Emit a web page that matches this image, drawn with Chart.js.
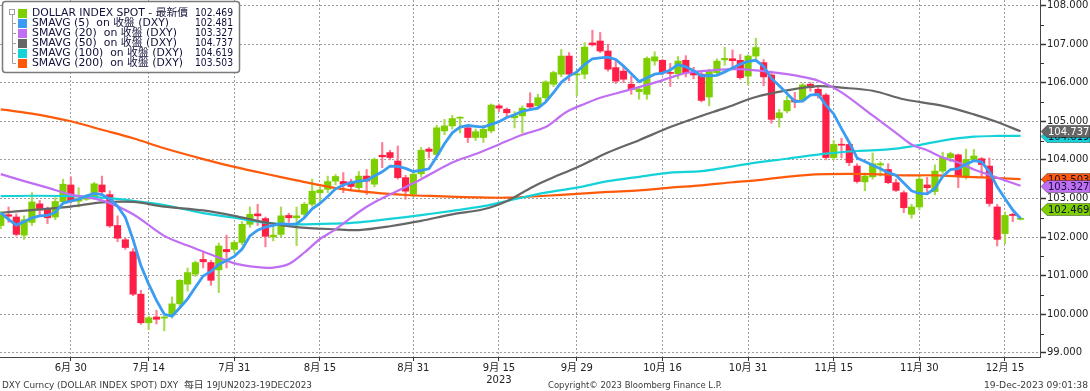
<!DOCTYPE html>
<html>
<head>
<meta charset="utf-8">
<script src="https://cdn.jsdelivr.net/npm/chart.js@4.4.1/dist/chart.umd.min.js"></script>
<style>
html, body { margin: 0; padding: 0; background: #fff; }
#wrap { width: 1090px; height: 391px; }
</style>
</head>
<body>
<div id="wrap"><canvas id="dxy" width="1090" height="391"></canvas></div>
<script>
// daily candles, 19 Jun 2023 .. 19 Dec 2023 (weekdays)
const opens = [102.30,102.58,102.52,102.05,102.38,102.86,102.72,102.52,102.92,103.35,
102.93,102.98,103.03,103.35,103.10,102.30,101.93,101.62,100.52,99.78,
99.93,99.90,99.98,100.27,100.78,101.04,101.42,101.34,101.15,101.68,
101.68,101.86,102.33,102.60,102.48,102.00,102.07,102.56,102.50,102.59,
102.85,103.15,103.24,103.45,103.44,103.43,103.28,103.58,103.37,104.12,
104.19,103.97,103.54,103.11,103.64,104.28,104.14,104.75,104.88,105.08,
104.83,104.58,104.58,104.75,105.40,105.31,105.09,105.14,105.46,105.40,
105.61,105.96,106.22,106.69,106.20,106.22,107.03,107.08,106.82,106.39,
106.30,105.96,105.77,105.70,106.56,106.58,106.26,106.23,106.58,106.26,
106.22,105.63,106.26,106.59,106.62,106.58,106.17,106.69,106.52,106.20,
105.09,105.27,105.55,105.54,105.96,105.83,105.68,104.06,104.40,104.40,
103.84,103.43,103.56,103.87,103.75,103.41,103.15,102.59,102.78,103.35,
103.18,103.71,104.06,104.13,103.58,104.01,104.03,103.84,102.78,102.09,
102.59,102.46];
const highs = [102.66,102.78,102.60,102.55,103.15,102.95,102.78,103.02,103.50,103.56,
103.28,103.10,103.42,103.58,103.20,102.55,101.98,101.70,100.62,99.95,
100.10,99.95,100.45,100.90,101.20,101.38,101.62,101.40,101.85,102.05,
101.90,102.40,102.78,102.85,102.52,102.30,102.78,102.62,102.78,102.90,
103.50,103.30,103.58,103.62,103.67,103.50,103.70,103.75,104.05,104.45,
104.25,104.36,103.60,103.70,104.32,104.32,104.90,105.05,105.15,105.12,
104.90,104.80,104.90,105.45,105.45,105.35,105.25,105.40,105.74,105.70,
106.05,106.30,106.86,106.78,106.25,107.04,107.36,107.30,107.00,106.58,
106.45,106.17,105.90,106.67,106.80,106.60,106.50,106.68,106.70,106.40,
106.30,106.35,106.62,106.92,106.85,106.73,106.72,107.15,106.60,106.30,
105.31,105.65,105.75,105.98,106.00,105.90,105.72,104.50,104.56,104.45,
103.90,103.66,104.18,103.95,103.90,103.50,103.20,102.85,103.60,103.55,
103.87,104.20,104.20,104.15,104.28,104.27,104.06,104.05,102.85,102.65,
102.62,102.50];
const lows = [102.22,102.38,102.03,101.94,102.30,102.55,102.35,102.45,102.85,102.88,
102.78,102.95,102.98,103.10,102.25,101.88,101.68,100.48,99.74,99.60,
99.75,99.57,99.90,100.20,100.60,100.98,101.20,100.75,100.56,101.20,
101.60,101.80,102.25,102.30,101.75,101.90,102.00,102.38,101.78,102.50,
102.80,102.90,103.15,103.35,103.15,103.20,103.20,103.10,103.30,103.80,
104.00,103.50,102.98,103.05,103.55,104.05,104.10,104.65,104.80,104.70,
104.45,104.50,104.45,104.70,105.25,105.10,104.83,104.70,105.30,105.35,
105.55,105.90,106.15,106.05,105.66,106.10,106.95,106.78,106.30,105.98,
106.00,105.70,105.57,105.57,106.45,106.20,105.90,106.10,106.15,106.10,
105.50,105.40,106.20,106.45,106.35,106.09,105.94,106.60,105.92,104.95,
104.85,105.22,105.35,105.50,105.78,105.60,104.00,104.00,104.05,103.85,
103.40,103.20,103.50,103.58,103.38,103.18,102.63,102.49,102.70,103.13,
103.10,103.65,103.95,103.28,103.50,103.98,103.54,102.80,101.77,101.83,
102.40,102.44];
const closes = [102.58,102.54,102.07,102.45,102.91,102.70,102.50,102.92,103.37,102.93,
103.00,103.06,103.38,103.17,102.29,101.97,101.73,100.52,99.78,99.91,
99.87,99.93,100.27,100.88,101.08,101.34,101.36,100.88,101.77,101.62,
101.86,102.33,102.59,102.55,102.02,102.05,102.55,102.50,102.55,102.85,
103.19,103.22,103.44,103.57,103.37,103.31,103.58,103.45,104.01,104.08,
104.06,103.54,103.19,103.63,104.25,104.22,104.83,104.88,105.07,105.10,
104.58,104.73,104.79,105.42,105.34,105.22,105.14,105.34,105.37,105.61,
106.02,106.26,106.69,106.22,106.22,106.92,106.98,106.82,106.35,106.04,
106.09,105.83,105.83,106.63,106.67,106.26,106.24,106.56,106.26,106.20,
105.54,106.29,106.56,106.63,106.57,106.13,106.69,106.91,106.15,105.05,
105.22,105.54,105.50,105.94,105.87,105.66,104.06,104.40,104.38,103.93,
103.44,103.58,103.90,103.90,103.41,103.21,102.76,102.78,103.50,103.28,
103.71,104.06,104.16,103.58,104.01,104.10,103.88,102.87,101.94,102.56,
102.56,102.47];

// moving averages
const sma5 = [102.63,102.46,102.31,102.40,102.50,102.55,102.56,102.64,102.88,102.93,
102.98,103.06,103.13,103.10,102.98,102.80,102.51,101.93,101.26,100.78,
100.36,100.00,99.95,100.17,100.40,100.70,100.99,101.11,101.29,101.39,
101.50,101.69,102.03,102.18,102.26,102.30,102.35,102.33,102.34,102.50,
102.73,102.87,103.05,103.25,103.35,103.41,103.45,103.47,103.58,103.69,
103.84,103.83,103.78,103.70,103.73,103.77,104.08,104.42,104.70,104.85,
104.89,104.87,104.85,104.92,104.99,105.10,105.17,105.26,105.30,105.34,
105.50,105.74,106.01,106.17,106.28,106.47,106.62,106.64,106.66,106.60,
106.43,106.23,106.03,106.12,106.22,106.25,106.33,106.47,106.41,106.31,
106.18,106.18,106.19,106.28,106.38,106.48,106.55,106.58,106.42,106.11,
105.92,105.72,105.51,105.52,105.68,105.70,105.42,105.19,104.81,104.45,
104.05,103.96,103.86,103.77,103.67,103.60,103.40,103.20,103.13,103.12,
103.26,103.57,103.75,103.77,103.89,103.98,103.95,103.69,103.30,103.00,
102.70,102.48];
const sma20Day = [0,3,6,9,13,17,21,24,27,30,33,35,37,39,41,43,46,48,51,54,58,61,64,67,70,72,73,75,77,79,81,84,86,88,90,94,97,101,103,105,108,112,115,117,119,121,123,125,128,131];
const sma20 = [103.63,103.45,103.28,103.10,102.95,102.59,102.03,101.78,101.55,101.32,101.22,101.21,101.30,101.60,101.95,102.20,102.65,102.90,103.20,103.50,103.93,104.15,104.40,104.65,104.85,105.15,105.28,105.45,105.61,105.72,105.83,106.00,106.13,106.25,106.30,106.35,106.32,106.22,106.15,106.05,105.75,105.15,104.70,104.40,104.25,104.06,103.93,103.75,103.54,103.33];
const sma50Day = [0,4,9,13,17,21,26,30,34,38,43,46,50,54,58,62,65,67,69,71,74,78,82,86,90,93,97,101,105,108,112,116,121,125,128,131];
const sma50 = [102.63,102.70,102.79,102.90,102.91,102.79,102.69,102.55,102.38,102.26,102.20,102.18,102.28,102.42,102.59,102.72,102.93,103.15,103.37,103.55,103.80,104.19,104.51,104.85,105.14,105.34,105.63,105.80,105.91,105.87,105.79,105.57,105.40,105.18,104.98,104.74];
const sma100Day = [0,4,9,13,17,21,26,30,34,38,43,46,50,54,58,62,66,70,74,78,82,86,90,93,97,101,106,110,114,117,121,125,128,131];
const sma100 = [103.06,103.07,103.06,103.02,102.94,102.83,102.62,102.50,102.37,102.33,102.35,102.38,102.47,102.57,102.68,102.80,102.98,103.15,103.28,103.45,103.56,103.67,103.71,103.80,103.93,104.03,104.16,104.23,104.27,104.35,104.50,104.60,104.62,104.62];
const sma200Day = [0,4,9,13,17,21,26,30,34,38,43,48,52,56,61,65,70,74,78,82,86,90,94,97,100,103,106,112,116,120,124,128,131];
const sma200 = [105.31,105.20,105.00,104.78,104.56,104.30,104.02,103.82,103.64,103.47,103.27,103.15,103.09,103.06,103.03,103.02,103.07,103.12,103.17,103.21,103.28,103.34,103.42,103.47,103.54,103.60,103.63,103.63,103.60,103.60,103.56,103.53,103.50];

const tickDays = [9,19,30,41,53,64,74,85,96,107,118,129];
const tickLabels = ['6月 30','7月 14','7月 31','8月 15','8月 31',['9月 15','2023'],'9月 29','10月 16','10月 31','11月 15','11月 30','12月 15'];
const yTicks = [99,100,101,102,103,104,105,106,107,108];

const legendNames = ['DOLLAR INDEX SPOT - 最新價','SMAVG (5)  on 收盤 (DXY)','SMAVG (20)  on 收盤 (DXY)','SMAVG (50)  on 收盤 (DXY)','SMAVG (100)  on 收盤 (DXY)','SMAVG (200)  on 收盤 (DXY)'];
const legendWidths = [156, 137, 145, 145, 151, 151];
const lastValues = [102.469,102.481,103.327,104.737,104.619,103.503];

const GREEN = '#7dcf00', RED = '#ff1e46';
const GREEN_WICK = '#a6dc52', RED_WICK = '#ff7d92';
const BLUE = '#3a9cf2', PURPLE = '#c16ff2', GRAY = '#666666', CYAN = '#14d3d8', ORANGE = '#ff5a0a';
const legendColors = [GREEN, BLUE, PURPLE, GRAY, CYAN, ORANGE];
const FONT = "'DejaVu Sans', 'Noto Sans CJK TC', sans-serif";

const isUp = i => closes[i] >= opens[i];
const pts = (days, vals) => vals.map((v, k) => ({x: days[k], y: v}));

const overlay = {
    id: 'overlay',
    afterDraw(chart){
        const ctx = chart.ctx;
        const a = chart.chartArea;
        const y = chart.scales.y;
        ctx.save();

        //squeeze or stretch a text to a given width
        const fit = (t, x, yy, w) => {
            const m = ctx.measureText(t).width;
            ctx.save();
            ctx.translate(x, yy);
            ctx.scale(w / m, 1);
            ctx.textAlign = 'left';
            ctx.fillText(t, 0, 0);
            ctx.restore();
        };

        //minor ticks on the value axis
        ctx.strokeStyle = '#333';
        ctx.lineWidth = 1;
        for(let v = 99.5; v < 108; v += 1){
            const py = Math.round(y.getPixelForValue(v)) + 0.5;
            ctx.beginPath();
            ctx.moveTo(a.right, py);
            ctx.lineTo(a.right + 4, py);
            ctx.stroke();
        }

        //last value tags on the right, later ones on top
        const tags = [
            [104.619, CYAN, '#10103a', 0],
            [104.737, GRAY, '#ffffff', 0],
            [103.503, ORANGE, '#10103a', 0],
            [103.327, PURPLE, '#10103a', 0],
            [102.469, GREEN, '#10103a', -10]
        ];
        ctx.font = '10px ' + FONT;
        ctx.textBaseline = 'middle';
        ctx.textAlign = 'left';
        tags.forEach(([v, bg, fg, nudge]) => {
            const yc = Math.round(y.getPixelForValue(v)) + nudge + 0.5;
            const x0 = a.right + 1, h = 12, tip = 6;
            ctx.beginPath();
            ctx.moveTo(x0, yc);
            ctx.lineTo(x0 + tip, yc - h / 2);
            ctx.lineTo(1090, yc - h / 2);
            ctx.lineTo(1090, yc + h / 2);
            ctx.lineTo(x0 + tip, yc + h / 2);
            ctx.closePath();
            ctx.fillStyle = bg;
            ctx.fill();
            ctx.strokeStyle = 'rgba(0,0,0,0.35)';
            ctx.stroke();
            ctx.fillStyle = fg;
            ctx.fillText(v.toFixed(3), x0 + tip + 1, yc + 0.5);
        });

        //legend box
        ctx.beginPath();
        ctx.roundRect(2.5, 1.5, 237, 71, 3);
        ctx.fillStyle = '#ffffff';
        ctx.fill();
        ctx.lineWidth = 1.5;
        ctx.strokeStyle = '#7a7a7a';
        ctx.stroke();

        const rowY = k => 12.5 + k * 10.15;
        ctx.lineWidth = 1;
        ctx.strokeStyle = '#a0a0a0';
        ctx.strokeRect(9.5, 9.5, 5, 5);
        ctx.beginPath();
        ctx.moveTo(12.5, 14.5);
        ctx.lineTo(12.5, rowY(5));
        for(let k = 1; k < 6; k++){
            ctx.moveTo(12.5, Math.round(rowY(k)) + 0.5);
            ctx.lineTo(16, Math.round(rowY(k)) + 0.5);
        }
        ctx.stroke();

        ctx.font = '10px ' + FONT;
        legendNames.forEach((name, k) => {
            const ry = rowY(k) + 0.5;
            ctx.fillStyle = legendColors[k];
            ctx.fillRect(18, Math.round(rowY(k)) - 4, 9, 9);
            ctx.fillStyle = '#10103a';
            fit(name, 32, ry, legendWidths[k]);
            fit(lastValues[k].toFixed(3), 195, ry, 38);
        });

        //footer line
        ctx.fillStyle = '#3a3a3a';
        ctx.font = "9px 'DejaVu Sans Condensed', 'Noto Sans CJK TC', sans-serif";
        fit('DXY Curncy (DOLLAR INDEX SPOT) DXY  每日 19JUN2023-19DEC2023', 2, 385.5, 310);
        fit('Copyright© 2023 Bloomberg Finance L.P.', 548, 385.5, 174);
        fit('19-Dec-2023 09:01:38', 984, 385.5, 104);

        ctx.restore();
    }
};

const lineSet = (label, data, color, width, order, tension) => ({
    type: 'line', label, data, borderColor: color, borderWidth: width,
    pointRadius: 0, tension, order, fill: false
});

new Chart(document.getElementById('dxy'), {
    type: 'bar',
    data: {
        datasets: [
            lineSet('SMAVG (5)', sma5.map((v, i) => ({x: i, y: v})), BLUE, 2.8, 1, 0),
            lineSet('SMAVG (20)', pts(sma20Day, sma20), PURPLE, 2.2, 2, 0.3),
            lineSet('SMAVG (50)', pts(sma50Day, sma50), GRAY, 2.2, 3, 0.3),
            lineSet('SMAVG (100)', pts(sma100Day, sma100), CYAN, 2.2, 4, 0.3),
            lineSet('SMAVG (200)', pts(sma200Day, sma200), ORANGE, 2.2, 5, 0.3),
            {
                label: 'body',
                data: closes.map((c, i) => ({x: i, y: [opens[i], c]})),
                backgroundColor: c => isUp(c.dataIndex) ? GREEN : RED,
                barThickness: 6.5,
                minBarLength: 1,
                grouped: false,
                order: 6
            },
            {
                label: 'wick',
                data: closes.map((c, i) => ({x: i, y: [lows[i], highs[i]]})),
                backgroundColor: c => isUp(c.dataIndex) ? GREEN_WICK : RED_WICK,
                barThickness: 1.5,
                grouped: false,
                order: 7
            }
        ]
    },
    options: {
        responsive: false,
        animation: false,
        layout: { padding: 0 },
        plugins: { legend: { display: false }, tooltip: { enabled: false } },
        scales: {
            x: {
                type: 'linear',
                min: -0.1,
                max: 133.5,
                offset: false,
                grid: { color: '#9c9c9c', offset: false, tickLength: 4, tickColor: '#333' },
                border: { color: '#444', width: 1, dash: [2, 2] },
                ticks: {
                    autoSkip: false, maxRotation: 0, padding: 1, color: '#222',
                    font: { family: FONT, size: 10 },
                    callback: v => tickLabels[tickDays.indexOf(v)]
                },
                afterBuildTicks: s => { s.ticks = tickDays.map(v => ({value: v})); },
                afterFit: s => { s.height = 34; s.paddingLeft = 0; s.paddingRight = 0; }
            },
            y: {
                position: 'right',
                min: 98.893,
                max: 108.142,
                grid: { color: '#9c9c9c', tickLength: 6, tickColor: '#333', tickWidth: 1.5 },
                border: { color: '#444', width: 1, dash: [2, 2] },
                ticks: {
                    padding: 1, color: '#222',
                    font: { family: FONT, size: 10 },
                    callback: v => v.toFixed(3)
                },
                afterBuildTicks: s => { s.ticks = yTicks.map(v => ({value: v})); },
                afterFit: s => { s.width = 50; s.paddingTop = 0; s.paddingBottom = 0; }
            }
        }
    },
    plugins: [overlay]
});
</script>
</body>
</html>
